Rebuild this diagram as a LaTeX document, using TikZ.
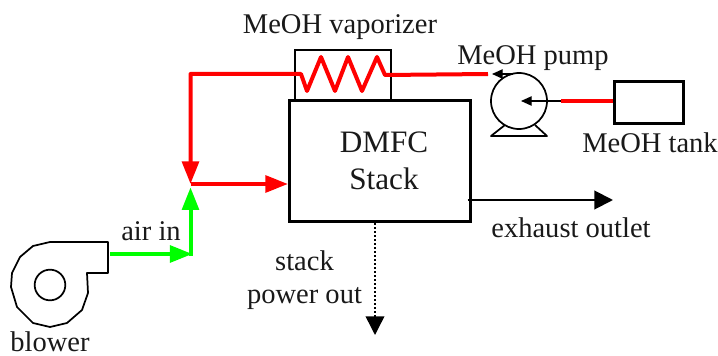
\documentclass[tikz,border=0pt]{standalone}
\usepackage{fontspec}
\setmainfont{Liberation Serif}
\usetikzlibrary{arrows.meta,positioning}
\definecolor{pipered}{RGB}{255,0,0}
\definecolor{pipegreen}{RGB}{0,255,0}
\tikzset{
 x=0.75pt,y=-0.75pt,
 lbl/.style={inner sep=0pt,font=\fontsize{21.4}{25}\selectfont,text=black!90},
 box/.style={draw=black,rectangle,inner sep=0pt},
 redpipe/.style={draw=pipered,line width=3pt,line join=round},
 greenpipe/.style={draw=pipegreen,line width=3pt,line join=round},
 bigred/.style={-{Triangle[length=17pt,width=12.5pt,color=pipered]}},
 biggreen/.style={-{Triangle[length=17pt,width=12.5pt,color=pipegreen]}},
 smallblack/.style={draw=black,line width=1pt,-{Triangle[length=8pt,width=7pt]}},
 bigblack/.style={draw=black,line width=1.5pt,-{Triangle[length=14pt,width=14pt]}},
 outline/.style={draw=black,line width=1.3pt,line join=round}
}
\begin{document}
\begin{tikzpicture}
\useasboundingbox (0,0) rectangle (718,356);
% boxes
\node[box,line width=1.6pt,minimum width=72.5pt,minimum height=37.5pt,anchor=north west] (vap) at (293.5,49) {};
\node[box,line width=2.25pt,minimum width=135.5pt,minimum height=90.5pt,anchor=north west] (stack) at (288,99.5) {};
\node[inner sep=0pt,align=center,font=\fontsize{23.4}{28}\selectfont,text=black!90] (stacktext) at (384,161) {DMFC\\Stack};
\node[box,line width=2.2pt,minimum width=52pt,minimum height=31.5pt,anchor=north west] (tank) at (613,80) {};
% pump
\node[draw=black,circle,line width=1.3pt,minimum size=42pt,inner sep=0pt] (pump) at (519,101) {};
\draw[outline] (505,125) -- (491,136) -- (547,136) -- (535,125);
\coordinate (pumpc) at (521,101);
\coordinate (pumpr) at (561,101);
\coordinate (pumpt) at (492,74);
\coordinate (pumptr) at (513,74);
% blower
\node[draw=black,circle,line width=1.3pt,minimum size=23pt,inner sep=0pt] (hub) at (50,285) {};
\draw[outline] (108,273) -- (108,242) -- (50,242) -- (33,246) -- (20,257) -- (12,273) -- (11,287) -- (17,307) -- (33,323) -- (50,327) -- (67,323) -- (82,310) -- (88,293) -- (87,273) -- cycle;
\coordinate (blowout) at (110,254);
% junctions
\coordinate (corner1) at (190.5,254);
\coordinate (join) at (190.5,184);
\coordinate (corner2) at (190.5,74);
\coordinate (pipeend) at (488,74);
% pipes
\draw[greenpipe,biggreen] (blowout) -- ([xshift=1.5pt]corner1);
\draw[greenpipe,biggreen] ([yshift=-1.5pt]corner1) -- ([yshift=-2.5pt]join);
\draw[redpipe,bigred] (pipeend) -- (385,75) -- (377,57) -- (362,91) -- (348,57) -- (335,91) -- (321,57) -- (307,91) -- (301,74) -- (corner2) -- (join);
\draw[redpipe,bigred] (join) -- (stack.west |- join);
\draw[redpipe] (tank.west |- pumpr) -- (pumpr);
\draw[smallblack] (pumpr) -- (pumpc);
\draw[smallblack] (pumptr) -- (pumpt);
\coordinate (exh) at (613,200);
\coordinate (pwr) at (375,335);
\draw[bigblack] ([xshift=-3pt]stack.east |- exh) -- (exh);
\draw[draw=black,line width=1.1pt,dash pattern=on 1.5pt off 1.5pt,-{Triangle[length=14pt,width=14pt]}] (stack.south -| pwr) -- (pwr);
% labels
\node[lbl] (t1) at (340,27) {MeOH vaporizer};
\node[lbl] (t2) at (533,58) {MeOH pump};
\node[lbl] (t3) at (650,143) {MeOH tank};
\node[lbl] (t4) at (151,231) {air in};
\node[lbl] (t5) at (571,228) {exhaust outlet};
\node[lbl,align=center] (t6) at (304.5,280) {stack\\power out};
\node[lbl] (t7) at (50,342) {blower};
\end{tikzpicture}
\end{document}
